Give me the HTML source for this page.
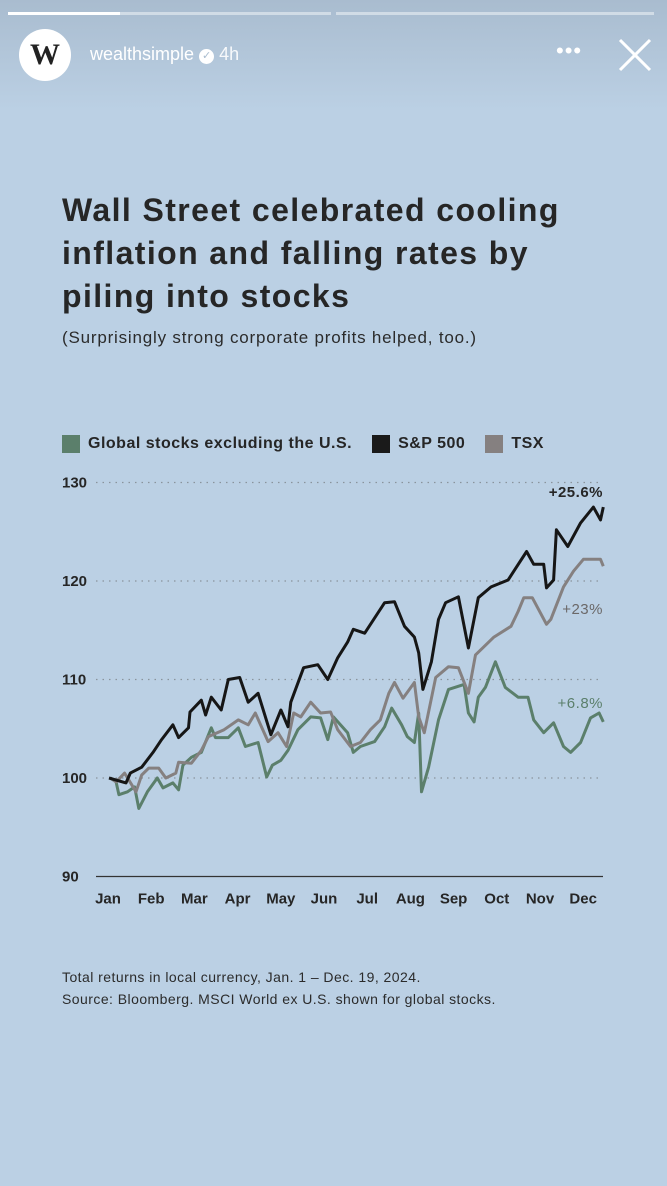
<!DOCTYPE html>
<html><head><meta charset="utf-8"><style>
body{margin:0;width:667px;height:1186px;background:#bbd0e4;font-family:"Liberation Sans",sans-serif;position:relative;overflow:hidden}
.abs{position:absolute}
</style></head><body>
<div class="abs" style="left:0;top:0;width:667px;height:110px;background:linear-gradient(#a9bccf,#bbd0e4)"></div>
<div class="abs" style="left:8px;top:12px;width:323px;height:3px;background:rgba(255,255,255,.45)"><div style="width:112px;height:3px;background:#fff"></div></div>
<div class="abs" style="left:336px;top:12px;width:318px;height:3px;background:rgba(255,255,255,.45)"></div>
<div class="abs" style="left:19px;top:29px;width:52px;height:52px;border-radius:50%;background:#fff;text-align:center;line-height:52px;font-family:'Liberation Serif',serif;font-weight:bold;font-size:30px;color:#222">W</div>
<div class="abs" style="left:90px;top:44px;font-size:18px;color:#fff">wealthsimple <span style="display:inline-block;width:15px;height:15px;border-radius:50%;background:#fff;color:#a9bccf;font-size:11px;line-height:15px;text-align:center;vertical-align:1px">✓</span> <span style="opacity:.9">4h</span></div>
<div class="abs" style="left:556px;top:38px;font-size:22px;color:#fff;letter-spacing:1px">•••</div>
<svg class="abs" style="left:617px;top:37px" width="36" height="36"><path d="M3 3L33 33M33 3L3 33" stroke="#fff" stroke-width="3"/></svg>
<div class="abs" style="left:62px;top:189px;font-size:32px;font-weight:bold;color:#262626;line-height:43px;letter-spacing:1.4px">Wall Street celebrated cooling<br>inflation and falling rates by<br>piling into stocks</div>
<div class="abs" style="left:62px;top:328px;font-size:17px;color:#2b2b2b;letter-spacing:0.8px">(Surprisingly strong corporate profits helped, too.)</div>
<div class="abs" style="left:62px;top:435px;font-size:16px;font-weight:bold;color:#262626;display:flex;align-items:center;letter-spacing:0.5px">
<span style="display:flex;align-items:center"><span style="width:18px;height:18px;background:#5b7f6b;margin-right:8px"></span>Global stocks excluding the U.S.</span>
<span style="display:flex;align-items:center;margin-left:20px"><span style="width:18px;height:18px;background:#1a1a1a;margin-right:8px"></span>S&amp;P 500</span>
<span style="display:flex;align-items:center;margin-left:20px"><span style="width:18px;height:18px;background:#858080;margin-right:8px"></span>TSX</span>
</div>
<svg id="chart" class="abs" style="left:0;top:460px" width="667" height="460"></svg>
<div class="abs" style="left:62px;top:966px;font-size:14px;color:#2b2b2b;line-height:22px;letter-spacing:0.45px">Total returns in local currency, Jan. 1 – Dec. 19, 2024.<br>Source: Bloomberg. MSCI World ex U.S. shown for global stocks.</div>
<script>
const yTicks=[90,100,110,120,130];
const months=["Jan","Feb","Mar","Apr","May","Jun","Jul","Aug","Sep","Oct","Nov","Dec"];
const spDays=[0,12,15,23,31,37,45,49,56,57,65,68,72,79,84,92,98,105,114,121,126,128,137,147,154,161,168,172,180,194,201,208,215,218,221,227,232,237,246,253,260,269,281,285,294,299,306,308,313,315,323,332,341,346,348];
const spVals=[100.0,99.5,100.5,101.1,102.6,103.9,105.4,104.1,105.1,106.7,107.9,106.4,108.2,106.9,110.0,110.2,107.7,108.6,104.4,106.9,105.2,107.7,111.2,111.5,110.0,112.2,113.8,115.1,114.7,117.8,117.9,115.4,114.3,112.7,109.0,111.8,116.1,117.8,118.4,113.2,118.3,119.4,120.1,121.0,123.0,121.7,121.7,119.3,120.1,125.2,123.5,125.9,127.5,126.2,127.5];
const tsxDays=[1,5,11,19,23,28,35,40,47,49,58,65,70,81,91,98,103,112,119,125,130,135,142,149,156,161,170,177,184,191,197,201,207,215,218,222,230,239,246,253,258,271,283,288,292,298,308,311,320,327,334,346,348];
const tsxVals=[100.0,99.6,100.5,98.6,100.3,101.0,101.0,100.0,100.5,101.6,101.5,102.8,104.2,104.9,105.9,105.4,106.6,103.7,104.6,103.2,106.6,106.2,107.7,106.6,106.7,104.9,103.2,103.6,104.9,105.9,108.6,109.7,108.1,109.7,106.2,104.6,110.2,111.3,111.2,108.6,112.5,114.3,115.4,116.9,118.3,118.3,115.6,116.1,119.4,121.0,122.2,122.2,121.5];
const glDays=[1,5,7,13,18,21,27,34,38,45,49,52,58,65,72,75,84,91,96,105,111,115,121,126,133,142,149,154,158,168,172,177,187,194,199,206,210,215,218,220,225,232,239,250,253,257,260,265,272,279,288,295,299,306,313,320,325,332,339,345,348];
const glVals=[100.0,99.6,98.3,98.6,99.1,96.9,98.6,100.0,99.0,99.5,98.8,101.3,102.1,102.6,105.1,104.1,104.1,105.1,103.2,103.6,100.1,101.3,101.8,102.8,104.9,106.2,106.1,103.9,106.2,104.6,102.6,103.2,103.7,105.2,107.1,105.4,104.2,103.6,106.6,98.6,101.1,105.9,109.0,109.5,106.6,105.7,108.2,109.2,111.8,109.2,108.2,108.2,105.9,104.6,105.6,103.2,102.6,103.6,106.1,106.6,105.7];
const labels=["+25.6%","+23%","+6.8%"];
const svg=document.getElementById('chart');const NS='http://www.w3.org/2000/svg';
const top0=460;
function y(v){return 778-top0-(v-100)*9.85;}
function x(d){return 109+d/0.704;}
function mk(t,a){const e=document.createElementNS(NS,t);for(const k in a)e.setAttribute(k,a[k]);svg.appendChild(e);return e;}
yTicks.forEach(v=>{
 const l=mk('line',{x1:96,x2:603,y1:y(v),y2:y(v),stroke:v==90?'#333':'#8a949c','stroke-width':v==90?1.3:1.2,'stroke-dasharray':v==90?'':'1.5 5'});
 
 
 const t=mk('text',{x:62,y:y(v)+5,'font-size':15,'font-weight':'bold',fill:'#262626'});t.textContent=v;
 
 
});
months.forEach((m,i)=>{
 const t=mk('text',{x:108+43.2*i,y:y(90)+27,'font-size':15,'font-weight':'bold',fill:'#262626','text-anchor':'middle'});t.textContent=m;
 
 
});
function line(ds,vs,c,n){
 const p=mk('polyline',{points:ds.map((d,i)=>x(d).toFixed(1)+','+y(vs[i]).toFixed(1)).join(' '),fill:'none',stroke:c,'stroke-width':3,'stroke-linejoin':'round'});
 
 
}
line(glDays,glVals,'#5b7f6b','line-global');
line(tsxDays,tsxVals,'#858080','line-tsx');
line(spDays,spVals,'#161616','line-sp500');
const ends=[[spVals,'#262626',-10],[tsxVals,'#6b6868',48],[glVals,'#5b7f6b',-14]];
ends.forEach((e,i)=>{
 const v=e[0][e[0].length-1];
 const t=mk('text',{x:603,y:y(v)+e[2],'font-size':15,fill:e[1],'text-anchor':'end','font-weight':i==0?'bold':'normal','letter-spacing':0.5});t.textContent=labels[i];
 
 
});
</script>
</body></html>
